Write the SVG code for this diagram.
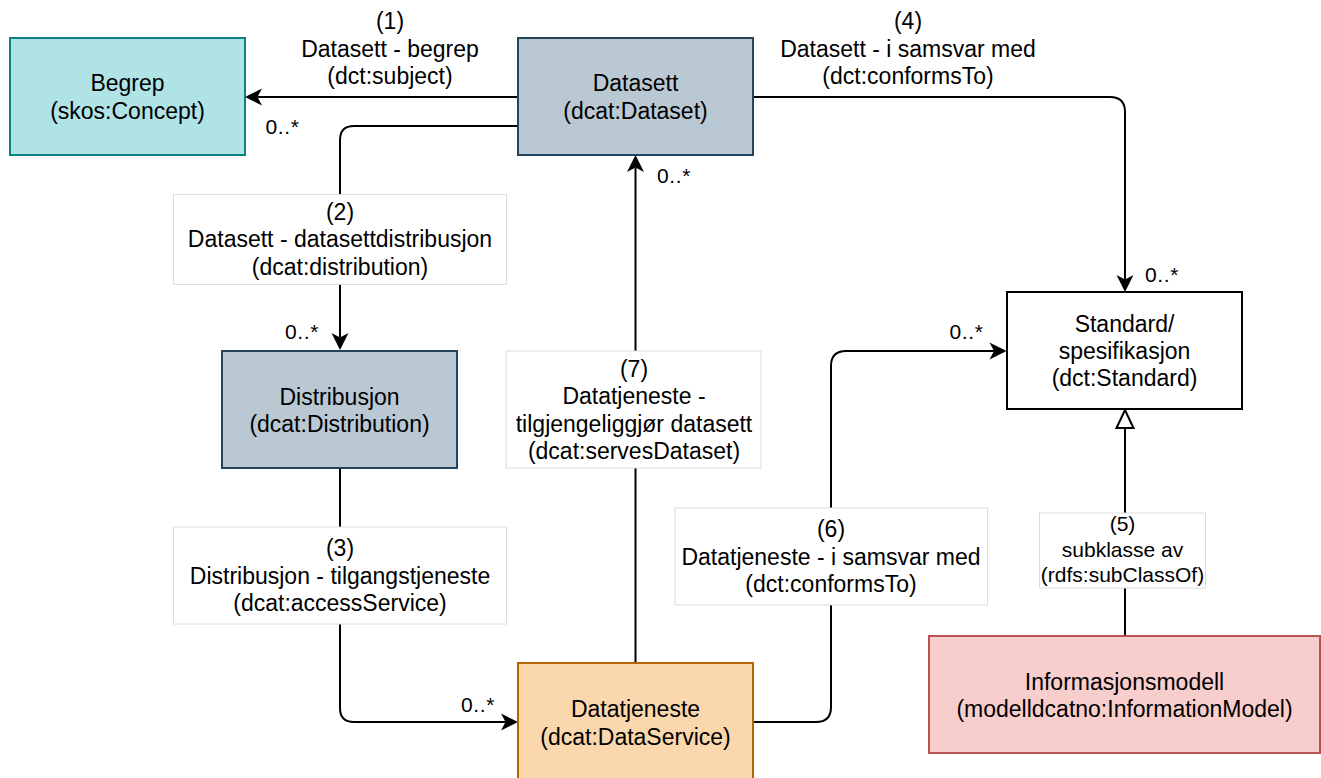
<svg xmlns="http://www.w3.org/2000/svg" width="1321" height="778" viewBox="0 0 1321 778">
  <style>
    text { font-family: "Liberation Sans", Arial, Helvetica, sans-serif; fill: #000; }
    .t { font-size: 23px; text-anchor: middle; }
    .s { font-size: 21px; text-anchor: middle; }
    .m { font-size: 21px; letter-spacing: 0.6px; }
    .edge { fill: none; stroke: #000; stroke-width: 2; }
    .lbl { fill: #fff; stroke: #dcdcdc; stroke-width: 1; }
    .node { stroke-width: 2; }
  </style>
  <defs>
    <marker id="arr" markerUnits="userSpaceOnUse" markerWidth="20" markerHeight="20" viewBox="-5 -10 20 20" refX="0" refY="0" orient="auto">
      <path d="M12.5,0 L-4.5,-8.5 L0,0 L-4.5,8.5 Z" fill="#000"/>
    </marker>
    <marker id="tri" markerUnits="userSpaceOnUse" markerWidth="22" markerHeight="22" viewBox="-2 -11 22 22" refX="0" refY="0" orient="auto">
      <path d="M0,-8.5 L18,0 L0,8.5 Z" fill="#fff" stroke="#000" stroke-width="2" stroke-linejoin="miter"/>
    </marker>
  </defs>
  <rect width="1321" height="778" fill="#fff"/>

  <g id="connectors">
    <g id="e1">
      <path class="edge" d="M518,97 H257.5" marker-end="url(#arr)"/>
      <text class="t" x="390" y="29">(1)</text>
      <text class="t" x="390" y="56.5">Datasett - begrep</text>
      <text class="t" x="390" y="84">(dct:subject)</text>
      <text class="m" x="265.5" y="134">0..*</text>
    </g>
    <g id="e2">
      <path class="edge" d="M518,126 H354 Q340,126 340,140 V337.5" marker-end="url(#arr)"/>
      <rect class="lbl" x="173.5" y="194.5" width="333" height="90"/>
      <text class="t" x="340" y="219.5">(2)</text>
      <text class="t" x="340" y="247">Datasett - datasettdistribusjon</text>
      <text class="t" x="340" y="274.5">(dcat:distribution)</text>
      <text class="m" x="285" y="338.5">0..*</text>
    </g>
    <g id="e3">
      <path class="edge" d="M340,468 V708 Q340,722 354,722 H505.5" marker-end="url(#arr)"/>
      <rect class="lbl" x="173.5" y="527" width="333" height="97"/>
      <text class="t" x="340" y="556">(3)</text>
      <text class="t" x="340" y="583.5">Distribusjon - tilgangstjeneste</text>
      <text class="t" x="340" y="611">(dcat:accessService)</text>
      <text class="m" x="461" y="711.5">0..*</text>
    </g>
    <g id="e7">
      <path class="edge" d="M635.5,663 V167.5" marker-end="url(#arr)"/>
      <rect class="lbl" x="506" y="351" width="255" height="117"/>
      <text class="t" x="634" y="376.5">(7)</text>
      <text class="t" x="634" y="404">Datatjeneste -</text>
      <text class="t" x="634" y="431.5">tilgjengeliggjør datasett</text>
      <text class="t" x="634" y="459">(dcat:servesDataset)</text>
      <text class="m" x="657" y="183">0..*</text>
    </g>
    <g id="e4">
      <path class="edge" d="M753,97 H1110 Q1125,97 1125,112 V279.5" marker-end="url(#arr)"/>
      <text class="t" x="908" y="29">(4)</text>
      <text class="t" x="908" y="56.5">Datasett - i samsvar med</text>
      <text class="t" x="908" y="84">(dct:conformsTo)</text>
      <text class="m" x="1145" y="282">0..*</text>
    </g>
    <g id="e6">
      <path class="edge" d="M753,722 H816 Q831,722 831,707 V366 Q831,351 846,351 H994" marker-end="url(#arr)"/>
      <rect class="lbl" x="675" y="508" width="312.5" height="97"/>
      <text class="t" x="831" y="537">(6)</text>
      <text class="t" x="831" y="564.5">Datatjeneste - i samsvar med</text>
      <text class="t" x="831" y="592">(dct:conformsTo)</text>
      <text class="m" x="949.5" y="339">0..*</text>
    </g>
    <g id="e5">
      <path class="edge" d="M1125,636 V428" marker-end="url(#tri)"/>
      <rect class="lbl" x="1039.5" y="513" width="166" height="75"/>
      <text class="s" x="1122.5" y="531">(5)</text>
      <text class="s" x="1122.5" y="556.5">subklasse av</text>
      <text class="s" x="1122.5" y="582">(rdfs:subClassOf)</text>
    </g>
  </g>

  <g id="begrep">
    <rect class="node" x="10" y="38" width="235" height="117" fill="#b0e3e6" stroke="#0e8088"/>
    <text class="t" x="127.5" y="91">Begrep</text>
    <text class="t" x="127.5" y="118.5">(skos:Concept)</text>
  </g>
  <g id="datasett">
    <rect class="node" x="518" y="38" width="235" height="117" fill="#bac8d3" stroke="#23445d"/>
    <text class="t" x="635.5" y="91">Datasett</text>
    <text class="t" x="635.5" y="118.5">(dcat:Dataset)</text>
  </g>
  <g id="distribusjon">
    <rect class="node" x="222" y="351" width="235" height="117" fill="#bac8d3" stroke="#23445d"/>
    <text class="t" x="339.5" y="404.5">Distribusjon</text>
    <text class="t" x="339.5" y="432">(dcat:Distribution)</text>
  </g>
  <g id="datatjeneste">
    <rect class="node" x="518" y="663" width="235" height="119" fill="#fad7ac" stroke="#b46504"/>
    <text class="t" x="635.5" y="717">Datatjeneste</text>
    <text class="t" x="635.5" y="745">(dcat:DataService)</text>
  </g>
  <g id="standard">
    <rect class="node" x="1007" y="292" width="235" height="117" fill="#fff" stroke="#000"/>
    <text class="t" x="1124.5" y="332">Standard/</text>
    <text class="t" x="1124.5" y="359">spesifikasjon</text>
    <text class="t" x="1124.5" y="386">(dct:Standard)</text>
  </g>
  <g id="informasjonsmodell">
    <rect class="node" x="929" y="636" width="391" height="117" fill="#f8cecc" stroke="#b85450"/>
    <text class="t" x="1124.5" y="690">Informasjonsmodell</text>
    <text class="t" x="1124.5" y="717">(modelldcatno:InformationModel)</text>
  </g>
</svg>
